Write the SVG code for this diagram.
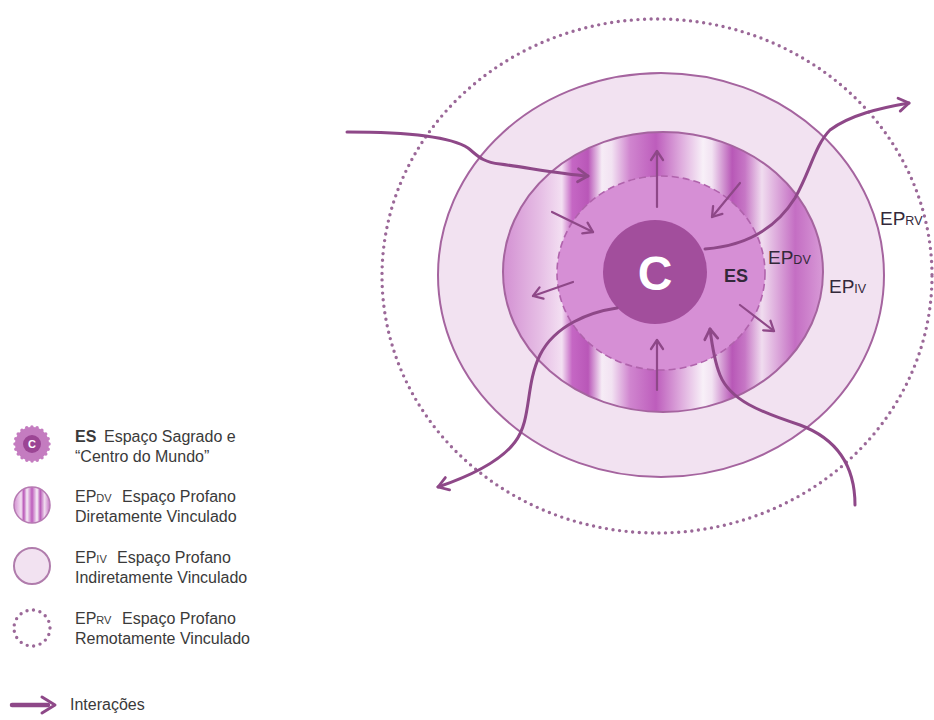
<svg xmlns="http://www.w3.org/2000/svg" width="934" height="720" viewBox="0 0 934 720">
<style>
.lbl{font-family:"Liberation Sans",Arial,sans-serif;fill:#33283a}
.ep{font-size:19px}
.eps{font-size:12.5px}
.lg{font-family:"Liberation Sans",Arial,sans-serif;fill:#3a3a3a;font-size:16px}
.sub{font-size:11px}
.ring{stroke:#a5649f;stroke-width:2}
.dots{fill:none;stroke:#9b6898;stroke-width:3.4;stroke-dasharray:0 6.6;stroke-linecap:round}
.wave{fill:none;stroke:#8e4888;stroke-width:3;stroke-linecap:round;marker-end:url(#ah)}
.short{fill:none;stroke:#8e4888;stroke-width:2.2;stroke-linecap:round;marker-end:url(#ah2)}
</style>
<defs>
<linearGradient id="stripes" gradientUnits="userSpaceOnUse" x1="503" y1="0" x2="823" y2="0">
<stop offset="0" stop-color="#d390d2"/>
<stop offset="0.116" stop-color="#e6bee5"/>
<stop offset="0.184" stop-color="#f3dff2"/>
<stop offset="0.216" stop-color="#c567c4"/>
<stop offset="0.266" stop-color="#b957b8"/>
<stop offset="0.309" stop-color="#f6ecf6"/>
<stop offset="0.340" stop-color="#f2e2f2"/>
<stop offset="0.397" stop-color="#d085cf"/>
<stop offset="0.478" stop-color="#bd5dbc"/>
<stop offset="0.553" stop-color="#dda8dc"/>
<stop offset="0.625" stop-color="#f8f0f8"/>
<stop offset="0.653" stop-color="#f2e2f2"/>
<stop offset="0.716" stop-color="#b858b7"/>
<stop offset="0.756" stop-color="#c676c5"/>
<stop offset="0.809" stop-color="#f0dcef"/>
<stop offset="0.850" stop-color="#dfb0de"/>
<stop offset="0.913" stop-color="#c46ec3"/>
<stop offset="1" stop-color="#d89ad7"/>
</linearGradient>
<linearGradient id="stripesIcon" x1="0" y1="0" x2="1" y2="0">
<stop offset="0" stop-color="#d390d2"/>
<stop offset="0.2" stop-color="#f3dff2"/>
<stop offset="0.27" stop-color="#b957b8"/>
<stop offset="0.36" stop-color="#f6ecf6"/>
<stop offset="0.5" stop-color="#bd5dbc"/>
<stop offset="0.64" stop-color="#f8f0f8"/>
<stop offset="0.73" stop-color="#b858b7"/>
<stop offset="0.85" stop-color="#f0dcef"/>
<stop offset="1" stop-color="#c46ec3"/>
</linearGradient>
<marker id="ah" markerUnits="userSpaceOnUse" markerWidth="18" markerHeight="18" refX="13" refY="9" orient="auto">
<path d="M3,2.5 L13,9 L3,15.5" fill="none" stroke="#8e4888" stroke-width="2.8" stroke-linecap="round" stroke-linejoin="round"/>
</marker>
<marker id="ah2" markerUnits="userSpaceOnUse" markerWidth="16" markerHeight="16" refX="12" refY="8" orient="auto">
<path d="M3,2 L12,8 L3,14" fill="none" stroke="#8e4888" stroke-width="2.3" stroke-linecap="round" stroke-linejoin="round"/>
</marker>
</defs>
<rect width="934" height="720" fill="#ffffff"/>

<g id="ring-rv"><ellipse class="dots" cx="657" cy="276" rx="275" ry="257"/></g>
<g id="ring-iv"><ellipse class="ring" cx="661" cy="275" rx="223" ry="202" fill="#f2e2f1"/></g>
<g id="ring-dv"><ellipse class="ring" cx="663" cy="272" rx="160" ry="140" fill="url(#stripes)"/></g>
<g id="ring-es"><ellipse cx="661" cy="273" rx="104" ry="97" fill="#d68fd5" stroke="#b063ac" stroke-width="1.6" stroke-dasharray="7 4"/></g>
<g id="center-c">
<circle cx="655" cy="272" r="52" fill="#a24e9c"/>
<text x="655" y="290" text-anchor="middle" font-family="'Liberation Sans',Arial,sans-serif" font-weight="bold" font-size="48" fill="#ffffff">C</text>
</g>

<g id="labels">
<text class="lbl" x="724" y="282" font-size="18" font-weight="bold">ES</text>
<text class="lbl ep" x="768" y="264">EP<tspan class="eps">DV</tspan></text>
<text class="lbl ep" x="829" y="293">EP<tspan class="eps">IV</tspan></text>
<text class="lbl ep" x="880" y="225">EP<tspan class="eps">RV</tspan></text>
</g>

<g id="connectors">
<path class="wave" d="M347,132 C400,132 450,136 468,148 C478,156 482,162 500,164 C530,168 560,174 588,176"/>
<path class="wave" d="M705,249 C745,246 775,230 795,198 C810,172 815,145 830,130 C850,115 880,108 909,103"/>
<path class="wave" d="M617,308 C590,312 555,325 540,355 C525,385 532,420 515,442 C500,462 470,476 438,487"/>
<path class="wave" d="M855,505 C855,470 840,440 800,425 C760,412 730,400 720,375 C714,360 712,345 710,329"/>
<path class="short" d="M657,207 L657,151"/>
<path class="short" d="M552,212 L593,232"/>
<path class="short" d="M740,183 L712,217"/>
<path class="short" d="M573,282 L533,296"/>
<path class="short" d="M740,305 L774,331"/>
<path class="short" d="M657,390 L657,340"/>
</g>

<g id="legend">
<g id="legend-es">
<circle cx="32" cy="444" r="17" fill="#c47cc0" stroke="#c47cc0" stroke-width="3.5" stroke-dasharray="0 5.3" stroke-linecap="round"/>
<circle cx="32" cy="444" r="9" fill="#9b4594"/>
<text x="32" y="448" text-anchor="middle" font-family="'Liberation Sans',Arial,sans-serif" font-weight="bold" font-size="11" fill="#ffffff">C</text>
<text class="lg" x="75" y="442" font-weight="bold" fill="#2a2a2a">ES</text>
<text class="lg" x="104" y="442">Espaço Sagrado e</text>
<text class="lg" x="75" y="462">“Centro do Mundo”</text>
</g>
<g id="legend-dv">
<circle cx="32" cy="505" r="18" fill="url(#stripesIcon)" stroke="#b67ab2" stroke-width="1.5"/>
<text class="lg" x="75" y="502">EP<tspan class="sub">DV</tspan></text>
<text class="lg" x="122" y="502">Espaço Profano</text>
<text class="lg" x="75" y="522">Diretamente Vinculado</text>
</g>
<g id="legend-iv">
<circle cx="32" cy="566" r="18" fill="#f2e2f1" stroke="#b07cac" stroke-width="2"/>
<text class="lg" x="75" y="563">EP<tspan class="sub">IV</tspan></text>
<text class="lg" x="117" y="563">Espaço Profano</text>
<text class="lg" x="75" y="583">Indiretamente Vinculado</text>
</g>
<g id="legend-rv">
<circle class="dots" cx="32" cy="628" r="18" stroke-width="2.8" stroke-dasharray="0 5.6"/>
<text class="lg" x="75" y="624">EP<tspan class="sub">RV</tspan></text>
<text class="lg" x="122" y="624">Espaço Profano</text>
<text class="lg" x="75" y="644">Remotamente Vinculado</text>
</g>
<g id="legend-arrow">
<path d="M12,705 L48,705" stroke="#8e4888" stroke-width="4.5" stroke-linecap="round"/>
<path d="M42,697 L55,705 L42,713" fill="none" stroke="#8e4888" stroke-width="3" stroke-linecap="round" stroke-linejoin="round"/>
<text class="lg" x="70" y="710">Interações</text>
</g>
</g>
</svg>
